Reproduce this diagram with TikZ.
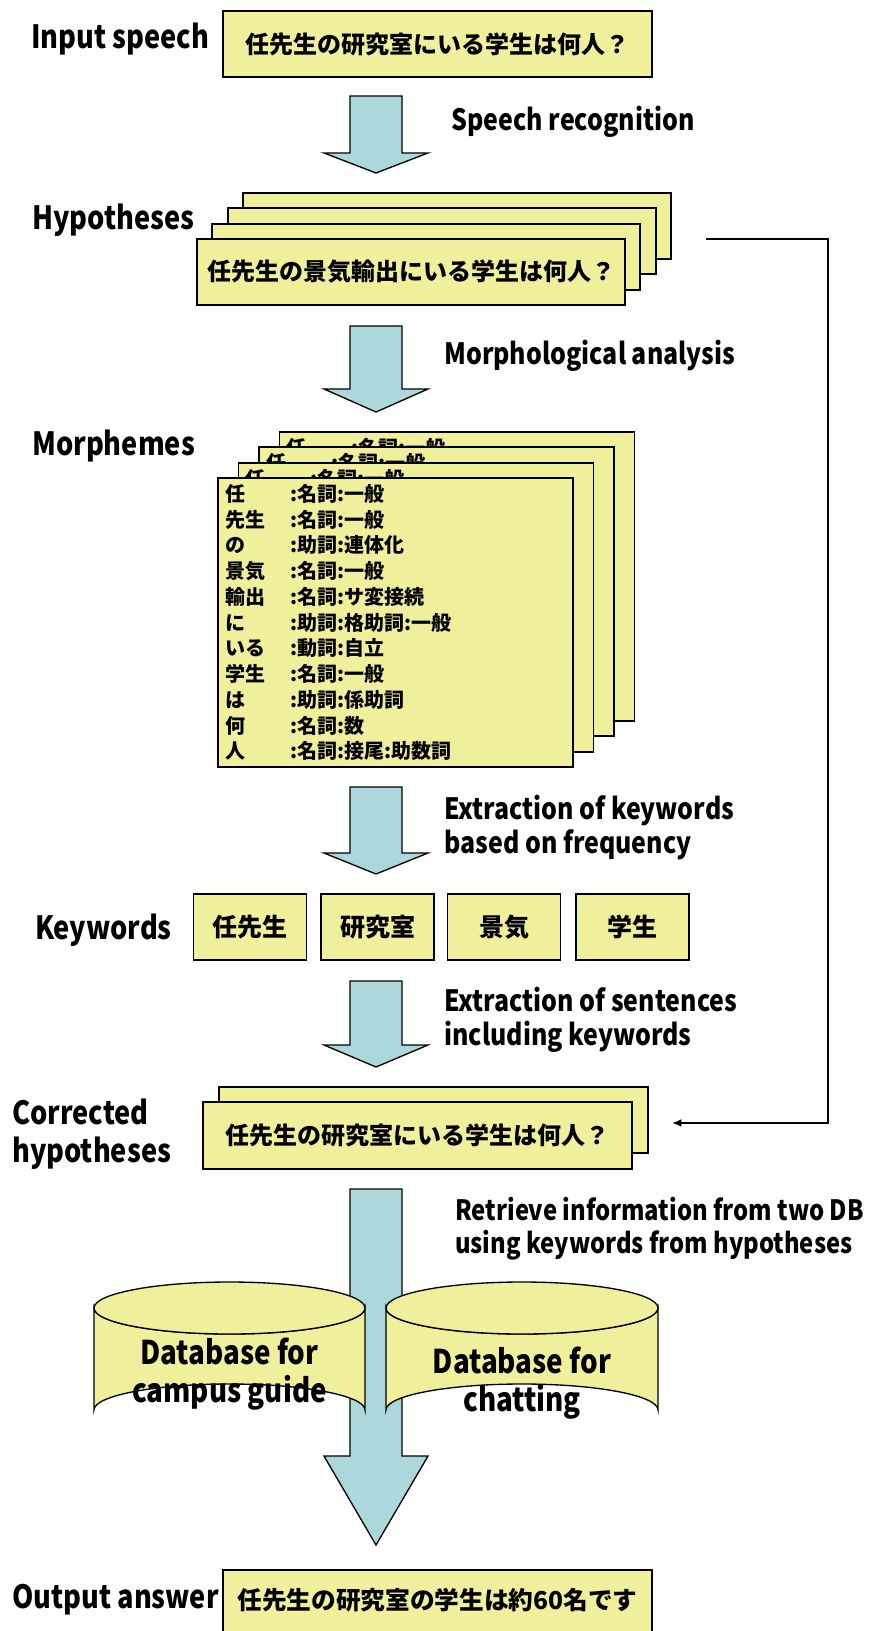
\documentclass[tikz,border=0pt]{standalone}
\usepackage{fontspec}
\setmainfont{Noto Sans CJK JP}
\newfontfamily\latf{Noto Sans CJK JP}[FakeStretch=0.85]
\usetikzlibrary{arrows.meta}
\definecolor{boxyellow}{RGB}{240,239,155}
\definecolor{arrowblue}{RGB}{172,215,219}
\newcommand{\mrow}[2]{\makebox[48.75pt][l]{#1}#2}
\newcommand{\morphtext}{\mrow{任}{:名詞:一般}\\\mrow{先生}{:名詞:一般}\\\mrow{の}{:助詞:連体化}\\\mrow{景気}{:名詞:一般}\\\mrow{輸出}{:名詞:サ変接続}\\\mrow{に}{:助詞:格助詞:一般}\\\mrow{いる}{:動詞:自立}\\\mrow{学生}{:名詞:一般}\\\mrow{は}{:助詞:係助詞}\\\mrow{何}{:名詞:数}\\\mrow{人}{:名詞:接尾:助数詞}}
\newcommand{\barrow}[3]{\draw[blockarrow] (350,#1) -- (402,#1) -- (402,#2) -- (428,#2) -- (376,#3) -- (324,#2) -- (350,#2) -- cycle;}
\begin{document}
\begin{tikzpicture}[x=0.75pt,y=-0.75pt,
  ybox/.style={draw=black, line width=1.4pt, fill=boxyellow, inner sep=0pt, align=center, font=\fontsize{18}{22}\selectfont\bfseries},
  lbl/.style={anchor=west, inner sep=0pt, font=\latf\fontsize{24}{28.5}\selectfont\bfseries, align=left},
  plbl/.style={anchor=west, inner sep=0pt, font=\latf\fontsize{22}{25.5}\selectfont\bfseries, align=left},
  dbtext/.style={inner sep=0pt, font=\latf\fontsize{24.5}{28.5}\selectfont\bfseries, align=center},
  hypbox/.style={ybox, minimum width=321pt, minimum height=49.5pt},
  morphbox/.style={ybox, minimum width=266.25pt, minimum height=216.75pt},
  morphfull/.style={morphbox, text width=255.75pt, align=left, font=\fontsize{15}{19.3}\selectfont\bfseries},
  morphline/.style={anchor=west, inner sep=0pt, font=\fontsize{15}{19.3}\selectfont\bfseries},
  kwbox/.style={ybox, minimum width=84.75pt, minimum height=49.5pt, font=\fontsize{18.75}{22}\selectfont\bfseries},
  blockarrow/.style={draw=black, line width=1pt, fill=arrowblue, line join=miter},
  cyl/.style={draw=black, line width=1pt, fill=boxyellow},
  feedback/.style={draw=black, line width=2pt, -{Latex[length=7pt,width=6pt]}}]
\useasboundingbox (0,0) rectangle (870,1631);
\clip (0,0) rectangle (870,1631);
\fill[white] (0,0) rectangle (870,1631);

% Input speech
\node[lbl] (lin) at (31,39) {Input speech};
\node[ybox, minimum width=321.75pt, minimum height=49.5pt] (inbox) at (437.5,44) {任先生の研究室にいる学生は何人？};

\barrow{96}{153}{173}
\node[plbl] (p1) at (451,122) {Speech recognition};

% Hypotheses
\node[lbl] (lhyp) at (32,220) {Hypotheses};
\node[hypbox] (h3) at (456.9,226.1) {};
\node[hypbox] (h2) at (441.6,241.4) {};
\node[hypbox] (h1) at (426.3,256.7) {};
\node[hypbox] (h0) at (411,272) {任先生の景気輸出にいる学生は何人？};

\barrow{326}{389}{412}
\node[plbl] (p2) at (444,356) {Morphological analysis};

% Morphemes
\node[lbl] (lmor) at (32,446) {Morphemes};
\node[morphbox] (m3) at (457,576.6) {};
\node[morphline] (t3) at (286.5,448) {\mrow{任}{:名詞:一般}};
\node[morphbox] (m2) at (436.5,591.9) {};
\node[morphline] (t2) at (266,463.3) {\mrow{任}{:名詞:一般}};
\node[morphbox] (m1) at (416,607.2) {};
\node[morphline] (t1) at (245.5,478.6) {\mrow{任}{:名詞:一般}};
\node[morphfull] (m0) at (395.5,622.5) {\morphtext};

\barrow{787}{853}{874}
\node[plbl] (p3) at (444,827.5) {Extraction of keywords\\based on frequency};

% Keywords
\node[lbl] (lkw) at (35,930) {Keywords};
\node[kwbox] (k1) at (250,927) {任先生};
\node[kwbox] (k2) at (377.5,927) {研究室};
\node[kwbox] (k3) at (504,927) {景気};
\node[kwbox] (k4) at (632.5,927) {学生};

\barrow{981}{1045}{1067}
\node[plbl] (p4) at (444,1020) {Extraction of sentences\\including keywords};

% Corrected hypotheses
\node[lbl] (lcor) at (12,1134) {Corrected\\hypotheses};
\node[ybox, minimum width=321.75pt, minimum height=49.5pt] (c1) at (433.5,1120) {};
\node[ybox, minimum width=321.75pt, minimum height=50.25pt] (c0) at (417.5,1135.5) {任先生の研究室にいる学生は何人？};

% feedback connector
\coordinate (fb0) at (706,239);
\coordinate (fb1) at (828,239);
\coordinate (fb2) at (828,1123);
\coordinate (fb3) at (672,1123);
\draw[feedback] (fb0) -- (fb1) -- (fb2) -- (fb3);

% Retrieval
\barrow{1189}{1456}{1545}
\node[plbl, font=\latf\fontsize{21}{24.75}\selectfont\bfseries] (p5) at (455,1228.5) {Retrieve information from two DB\\using keywords from hypotheses};

% databases
\draw[cyl] (94,1308) -- (94,1410) arc[start angle=180, end angle=360, x radius=135.5, y radius=26] -- (365,1308) arc[start angle=0, end angle=180, x radius=135.5, y radius=26] -- cycle;
\draw[cyl] (229.5,1308) ellipse[x radius=135.5, y radius=26];
\draw[cyl] (386,1308) -- (386,1410) arc[start angle=180, end angle=360, x radius=136, y radius=26] -- (658,1308) arc[start angle=0, end angle=180, x radius=136, y radius=26] -- cycle;
\draw[cyl] (522,1308) ellipse[x radius=136, y radius=26];
\node[dbtext] (db1) at (229.5,1374) {Database for\\campus guide};
\node[dbtext] (db2) at (522,1383.5) {Database for\\chatting};

% Output
\node[lbl] (lout) at (12,1600) {Output answer};
\node[ybox, minimum width=321.75pt, minimum height=60pt] (outbox) at (437.5,1610) {};
\node[inner sep=0pt, font=\fontsize{18.5}{22}\selectfont\bfseries] (outtext) at (437.5,1600) {任先生の研究室の学生は約60名です};
\end{tikzpicture}
\end{document}
